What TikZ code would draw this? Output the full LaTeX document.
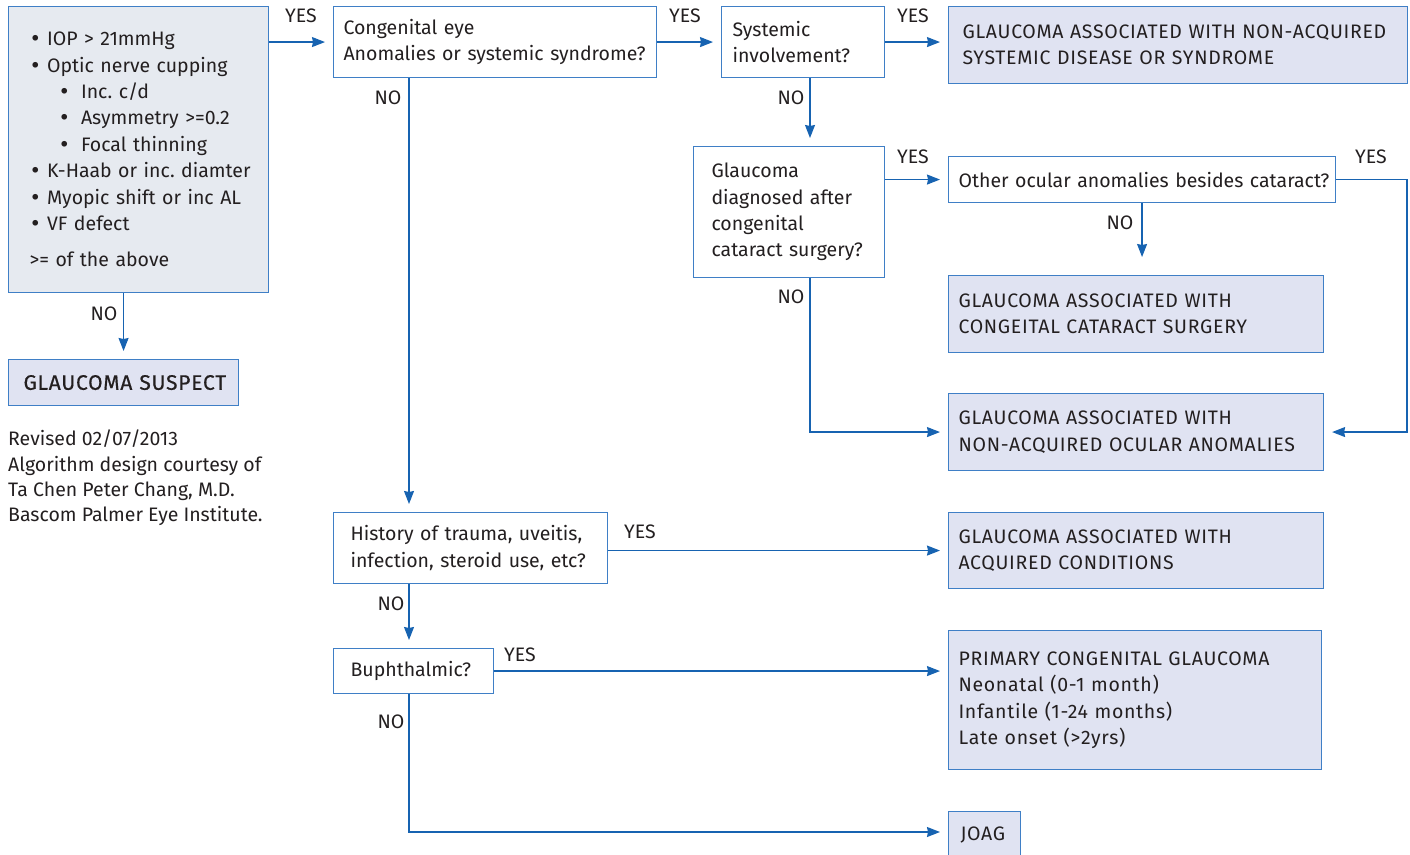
\documentclass[tikz,border=0pt]{standalone}
\usepackage{fontspec}
\setmainfont{Fira Sans}
\newfontfamily\bulfont{DejaVu Sans}
\usetikzlibrary{arrows.meta,positioning,calc}
\definecolor{ink}{HTML}{231F20}
\definecolor{edge}{HTML}{3F7FC6}
\definecolor{wire}{HTML}{1763B1}
\definecolor{critfill}{HTML}{E6EAF0}
\definecolor{resfill}{HTML}{E0E3F2}
\newcommand{\fsize}{\fontsize{19.5}{26.4}\selectfont}
\newcommand{\capsp}{\addfontfeature{LetterSpace=3.6}}
\newcommand{\bul}{{\bulfont\textbullet}}
\frenchspacing
\tikzset{
  qbox/.style={draw=edge,line width=1.1pt,fill=white,anchor=north west,align=left,inner sep=0pt,font=\fsize,text=ink},
  crbox/.style={qbox,fill=critfill},
  rbox/.style={qbox,fill=resfill,font=\fsize\capsp},
  lpad/.style={execute at begin node={\leftskip=#1\relax}},
  lab/.style={font=\fsize,text=ink,inner sep=0pt},
  ar/.style={-{Stealth[length=13pt,width=10pt,inset=1pt]},draw=wire,line width=1.2pt,shorten >=8pt},
}

\begin{document}
\begin{tikzpicture}[x=1pt,y=-1pt]
  \useasboundingbox (0,0) rectangle (1410,854);
  % boxes
  \node[crbox,lpad=21pt,text width=260pt,minimum height=286pt] (crit) at (8,6)
    {\bul\hspace{6pt}IOP > 21mmHg\\
     \bul\hspace{6pt}Optic nerve cupping\\
     \hspace*{29pt}\bul\hspace{11pt}Inc. c/d\\
     \hspace*{29pt}\bul\hspace{11pt}Asymmetry >=0.2\\
     \hspace*{29pt}\bul\hspace{11pt}Focal thinning\\
     \bul\hspace{6pt}K-Haab or inc. diamter\\
     \bul\hspace{6pt}Myopic shift or inc AL\\
     \bul\hspace{6pt}VF defect\\[10pt]
     >= of the above};
  \node[qbox,lpad=10pt,text width=323pt,minimum height=71pt] (q1) at (333,6)
    {Congenital eye\\Anomalies or systemic syndrome?};
  \node[qbox,lpad=11pt,text width=163pt,minimum height=71pt] (q2) at (721,6)
    {Systemic\\involvement?};
  \node[rbox,lpad=14pt,text width=459pt,minimum height=77pt] (r1) at (948,6)
    {GLAUCOMA ASSOCIATED WITH NON-ACQUIRED\\SYSTEMIC DISEASE OR SYNDROME};
  \node[qbox,lpad=18pt,text width=191pt,minimum height=131pt] (q3) at (693,146)
    {Glaucoma\\diagnosed after\\congenital\\cataract surgery?};
  \node[qbox,lpad=10pt,text width=387pt,minimum height=46pt] (q4) at (948,156)
    {Other ocular anomalies besides cataract?};
  \node[rbox,lpad=10pt,text width=375pt,minimum height=77pt] (r2) at (948,275)
    {GLAUCOMA ASSOCIATED WITH\\CONGEITAL CATARACT SURGERY};
  \node[rbox,lpad=10pt,text width=375pt,minimum height=77pt] (r3) at (948,393)
    {GLAUCOMA ASSOCIATED WITH\\NON-ACQUIRED OCULAR ANOMALIES};
  \node[rbox,lpad=15pt,text width=230pt,minimum height=46pt,font=\fontsize{21}{26}\selectfont\capsp\addfontfeature{FakeBold=0.6}] (suspect) at (8,359)
    {GLAUCOMA SUSPECT};
  \node[lab,anchor=north west,align=left,font=\fontsize{19.5}{25.3}\selectfont] (credit) at (8,430)
    {Revised 02/07/2013\\Algorithm design courtesy of\\Ta Chen Peter Chang, M.D.\\Bascom Palmer Eye Institute.};
  \node[qbox,lpad=17pt,text width=274pt,minimum height=71pt] (q5) at (333,512)
    {History of trauma, uveitis,\\infection, steroid use, etc?};
  \node[rbox,lpad=10pt,text width=375pt,minimum height=76pt] (r4) at (948,512)
    {GLAUCOMA ASSOCIATED WITH\\ACQUIRED CONDITIONS};
  \node[qbox,lpad=17pt,text width=160pt,minimum height=45pt] (q6) at (333,648)
    {Buphthalmic?};
  \node[rbox,lpad=10pt,text width=373pt,minimum height=139pt] (r5) at (948,630)
    {PRIMARY CONGENITAL GLAUCOMA\\Neonatal (0-1 month)\\Infantile (1-24 months)\\Late onset (>2yrs)};
  \node[rbox,lpad=12pt,text width=72pt,minimum height=46pt] (joag) at (948,811)
    {JOAG};

  % columns and rows the connectors run along
  \coordinate (colA) at (409,0);
  \coordinate (colB) at (810,0);
  \coordinate (rail) at (1407,0);
  \coordinate (rowJ) at (0,832);
  \coordinate (q4end) at (0,265);

  % connectors
  \draw[ar] (crit.east |- q1.west) -- (q1.west);
  \draw[ar] (q1.east) -- (q2.west);
  \draw[ar] (q2.east) -- (q2.east -| r1.west);
  \draw[ar] (colB |- q2.south) -- (colB |- q3.north);
  \draw[ar] (q4.west -| q3.east) -- (q4.west);
  \draw[ar] (q4.south) -- (q4.south |- q4end);
  \draw[ar] (q4.east) -- (rail |- q4.east) -- (rail |- r3.east) -- (r3.east);
  \draw[ar] (colB |- q3.south) |- (r3.west);
  \draw[ar] (suspect.north |- crit.south) -- (suspect.north);
  \draw[ar] (colA |- q1.south) -- (colA |- q5.north);
  \draw[ar] (q5.east |- r4.west) -- (r4.west);
  \draw[ar] (colA |- q5.south) -- (colA |- q6.north);
  \draw[ar] (q6.east) -- (q6.east -| r5.west);
  \draw[ar] (colA |- q6.south) |- (rowJ -| joag.west);

  % yes / no labels
  \node[lab] (yes1) at (301,16) {YES};
  \node[lab] (yes2) at (685,16) {YES};
  \node[lab] (yes3) at (913,16) {YES};
  \node[lab] (no1) at (388,98) {NO};
  \node[lab] (no2) at (791,98) {NO};
  \node[lab] (yes4) at (913,157) {YES};
  \node[lab] (no4) at (1120,223) {NO};
  \node[lab] (yes5) at (1371,157) {YES};
  \node[lab] (no3) at (791,297) {NO};
  \node[lab] (no0) at (104,314) {NO};
  \node[lab] (yes6) at (640,532) {YES};
  \node[lab] (no5) at (391,604) {NO};
  \node[lab] (yes7) at (520,655) {YES};
  \node[lab] (no6) at (391,722) {NO};
\end{tikzpicture}
\end{document}
